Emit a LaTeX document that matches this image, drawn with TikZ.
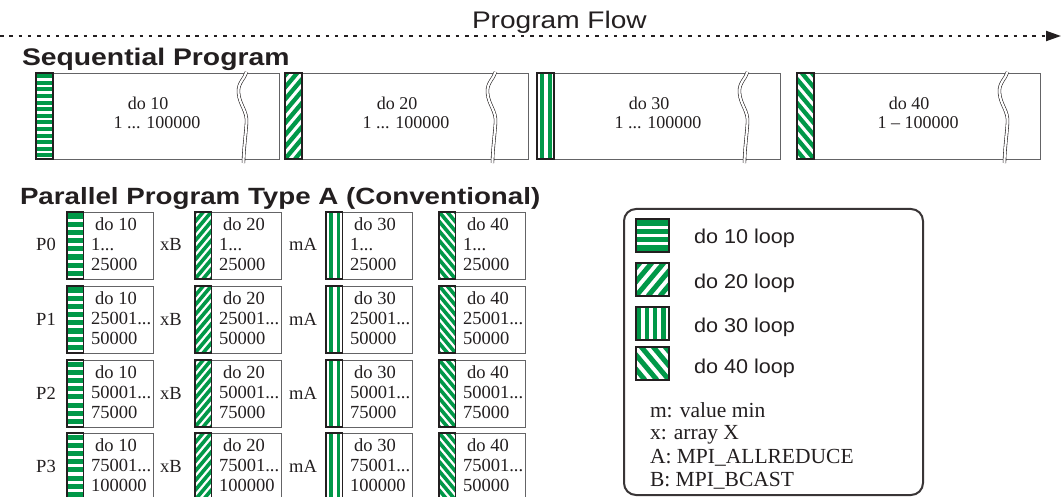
\documentclass[tikz,border=0pt]{standalone}
\usepackage{fontspec}
\setmainfont{Liberation Serif}
\newfontfamily\titlefont[FakeStretch=1.18]{Liberation Sans}
\newfontfamily\flowfont[FakeStretch=1.17]{Liberation Sans}
\newfontfamily\legsans[FakeStretch=1.08]{Liberation Sans}
\usetikzlibrary{arrows.meta,calc}
\definecolor{lgreen}{RGB}{0,152,72}
\definecolor{ink}{RGB}{35,31,32}
\definecolor{boxgray}{RGB}{100,100,102}
\tikzset{
  hpat/.style 2 args={path picture={%
    \foreach \k in {0,...,14}{%
      \fill[lgreen] ([yshift={-\k*#1pt-#2pt}]path picture bounding box.north west) rectangle ++(60pt,{-0.62*#1pt});
    }}},
  nepat/.style 2 args={path picture={%
    \foreach \k in {-14,...,6}{%
      \draw[lgreen,line width=#2pt] ([xshift={\k*#1pt}]path picture bounding box.south west) -- ++(50:170pt);
    }}},
  nwpat/.style 2 args={path picture={%
    \foreach \k in {-14,...,6}{%
      \draw[lgreen,line width=#2pt] ([xshift={-\k*#1pt}]path picture bounding box.south east) -- ++(130:170pt);
    }}},
  vpat/.style 2 args={path picture={%
    \foreach \k in {0,...,6}{%
      \fill[lgreen] ([xshift={\k*#1pt+#2pt}]path picture bounding box.north west) rectangle ++({0.5*#1pt},-120pt);
    }}},
  seqh/.style={hpat={6.6}{1.2}},
  seqne/.style={nepat={10}{4.3}},
  seqv/.style={vpat={8}{2.5}},
  seqnw/.style={nwpat={10}{4.3}},
  parh/.style={hpat={8.2}{1.5}},
  parne/.style={nepat={8}{3.6}},
  parv/.style={vpat={7.5}{3}},
  parnw/.style={nwpat={8}{3.6}},
  legh/.style={hpat={8.3}{1.5}},
  legne/.style={nepat={12}{5}},
  legv/.style={vpat={8.2}{0.8}},
  legnw/.style={nwpat={12}{5}},
  every node/.style={inner sep=0pt,outer sep=0pt,text=ink},
  seqbox/.style={draw=boxgray,line width=0.9pt,fill=white,anchor=north west,minimum width=243.5pt,minimum height=86pt},
  seqstrip/.style={draw=ink,line width=1.1pt,fill=white,anchor=north west,minimum width=17pt,minimum height=86pt},
  pbox/.style={draw=boxgray,line width=0.9pt,fill=white,anchor=north west,minimum width=86pt,minimum height=67pt},
  pstrip/.style={draw=ink,line width=1.1pt,fill=white,anchor=north west,minimum width=16.5pt,minimum height=67pt},
  swatch/.style={draw=ink,line width=1.1pt,fill=white,anchor=north west,minimum width=33pt,minimum height=33pt},
  seqtxt/.style={font=\fontsize{18}{20}\selectfont,anchor=base},
  ptxt/.style={font=\fontsize{18.5}{20}\selectfont},
  plab/.style={font=\fontsize{18.5}{20}\selectfont,anchor=base},
  legtxt/.style={font=\legsans\fontsize{20}{24}\selectfont,anchor=base west},
  legser/.style={font=\fontsize{21.5}{24}\selectfont,anchor=base west},
  seqtitle/.style={font=\titlefont\bfseries\fontsize{24}{28}\selectfont,anchor=base west},
  partitle/.style={font=\titlefont\bfseries\fontsize{23.5}{28}\selectfont,anchor=base west},
  flowtxt/.style={font=\flowfont\fontsize{24}{28}\selectfont,anchor=base west},
  wavy/.style={draw=ink,line width=0.6pt,double=white,double distance=2.2pt},
  flow/.style={draw=ink,line width=2pt,dash pattern=on 3.5pt off 5.8pt,-{Triangle[length=15pt,width=10pt]}},
  legendbox/.style={draw=ink!90,line width=2pt,rounded corners=12pt,anchor=north west,minimum width=299pt,minimum height=286pt}
}
\begin{document}
\begin{tikzpicture}[x=1pt,y=-1pt]
\useasboundingbox (0,0) rectangle (1061,497);
\fill[white] (0,0) rectangle (1061,497);
\clip (0,0) rectangle (1061,497);
% program flow
\node[flowtxt] (flowlab) at (472,29) {Program Flow};
\coordinate (flowstart) at (0,36);
\coordinate (flowend) at (1061,36);
\draw[flow] (flowstart) -- (flowend);
% titles
\node[seqtitle] (seqtitlenode) at (22,66) {Sequential Program};
\node[partitle] (partitlenode) at (20,205) {Parallel Program Type A (Conventional)};
% sequential program
\foreach \si/\sx/\lab/\rng/\pat in {1/36/10/{1 ... 100000}/seqh, 2/285/20/{1 ... 100000}/seqne, 3/537/30/{1 ... 100000}/seqv, 4/797/40/{1 -- 100000}/seqnw}{
  \node[seqbox] (s\si) at (\sx,73) {};
  \node[seqstrip,\pat] (s\si s) at (\sx,73) {};
  \begin{scope}[shift={(s\si.north east)}]
    \draw[wavy] (-33,-1) .. controls (-35,6) and (-42,10) .. (-41,20) .. controls (-40,32) and (-32,38) .. (-33,50) .. controls (-34,64) and (-36,78) .. (-36,90);
  \end{scope}
  \node[seqtxt] (s\si a) at (\sx+112,110) {do \lab};
  \node[seqtxt] (s\si b) at (\sx+121,129) {\rng};
}
% parallel program
\foreach \ri/\ry/\ta/\tb in {0/212/{1...}/25000, 1/286/{25001...}/50000, 2/360/{50001...}/75000, 3/433/{75001...}/100000}{
  \node[plab] (P\ri) at (46,\ry+39) {P\ri};
  \node[plab] (xb\ri) at (171,\ry+39) {xB};
  \node[plab] (ma\ri) at (303,\ry+39) {mA};
  \foreach \ci/\cx/\lab/\pat in {1/67/10/parh, 2/195/20/parne, 3/326/30/parv, 4/439/40/parnw}{
    \ifnum\ci\ri=43 \def\tbt{50000}\else\let\tbt\tb\fi
    \node[pbox] (p\ri\ci) at (\cx,\ry) {};
    \node[pstrip,\pat] (p\ri\ci s) at (\cx,\ry) {};
    \node[ptxt,anchor=base] (p\ri\ci a) at (\cx+49,\ry+18.5) {do \lab};
    \node[ptxt,anchor=base west] (p\ri\ci b) at (\cx+24,\ry+38.5) {\ta};
    \node[ptxt,anchor=base west] (p\ri\ci c) at (\cx+24,\ry+58.5) {\tbt};
  }
}
% legend
\node[legendbox] (leg) at (624,209) {};
\foreach \li/\ly/\pat in {1/219/legh, 2/263/legne, 3/307/legv, 4/347/legnw}{
  \node[swatch,\pat] (sw\li) at (636,\ly) {};
}
\node[legtxt] (lt1) at (694,244) {do 10 loop};
\node[legtxt] (lt2) at (694,289) {do 20 loop};
\node[legtxt] (lt3) at (694,333) {do 30 loop};
\node[legtxt] (lt4) at (694,373) {do 40 loop};
\node[legser] (lm) at (650,417) {m: value min};
\node[legser] (lx) at (650,439) {x: array X};
\node[legser] (la) at (650,463) {A: MPI\_ALLREDUCE};
\node[legser] (lb) at (650,486) {B: MPI\_BCAST};
\end{tikzpicture}
\end{document}
